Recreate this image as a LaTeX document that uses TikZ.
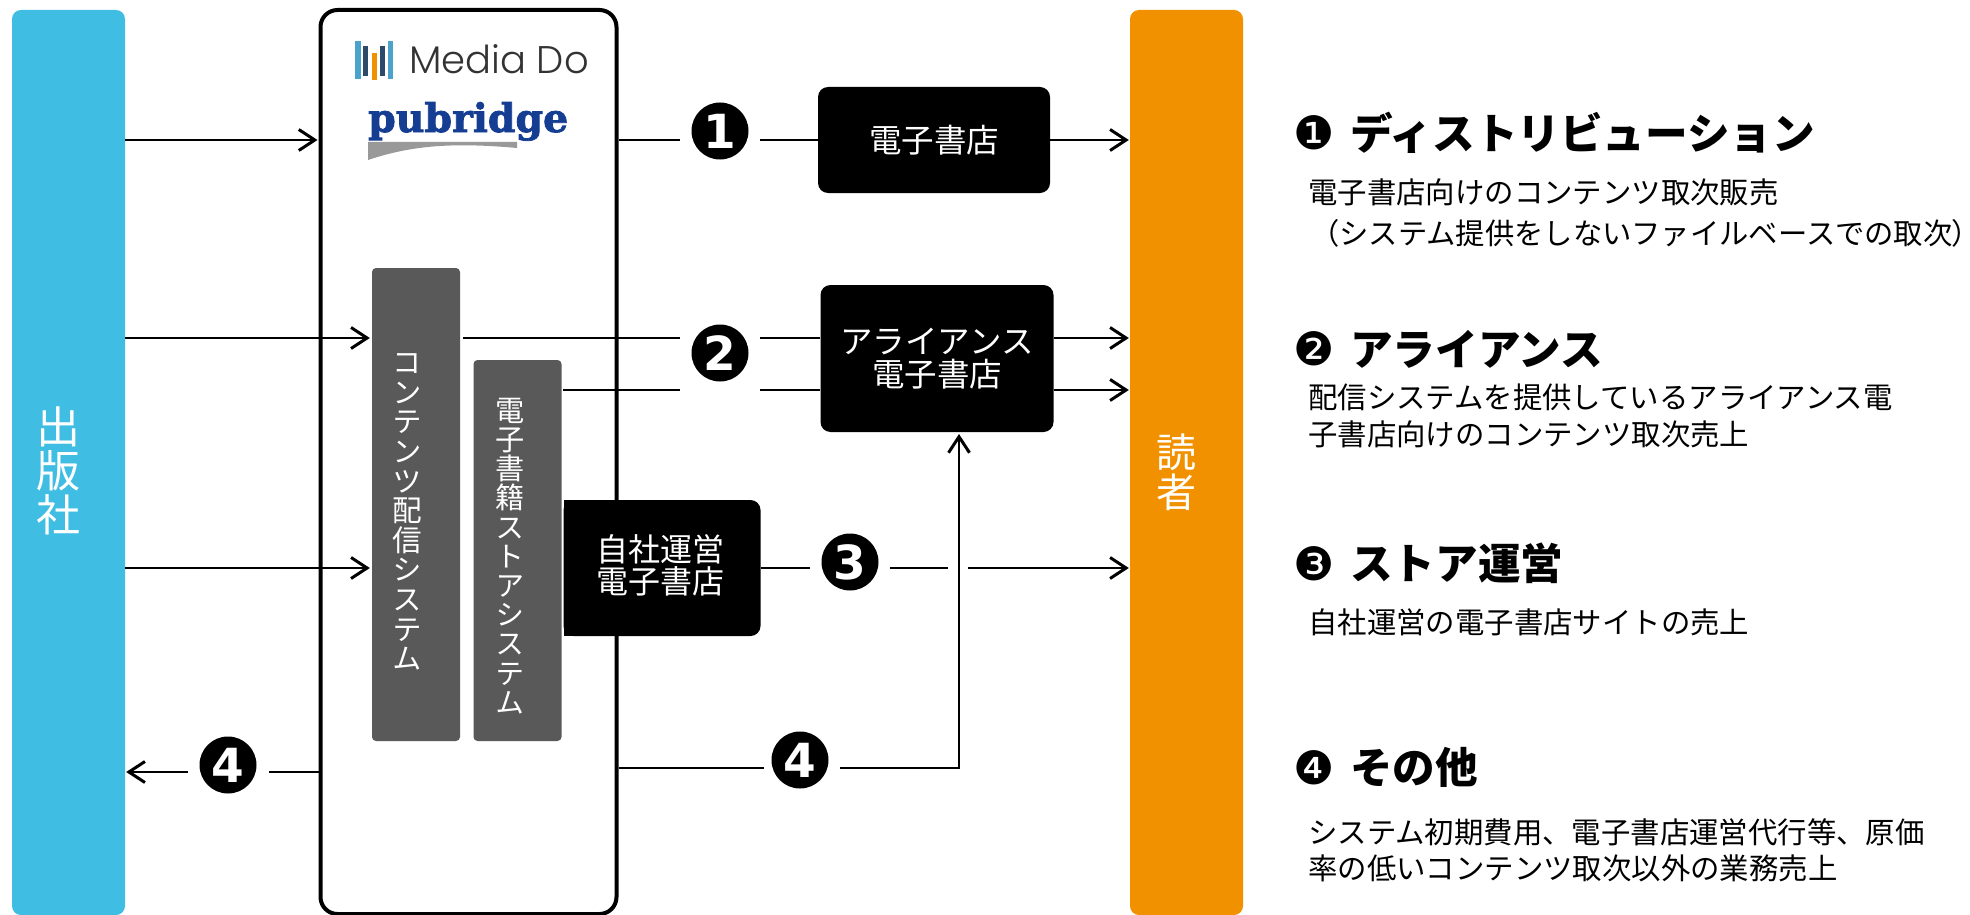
\documentclass[tikz,border=0pt]{standalone}
\usepackage{fontspec}
\setmainfont{Noto Sans CJK JP}
\newfontfamily\cjkvert[RawFeature={+vert}]{Noto Sans CJK JP}
\newfontfamily\cjkpalt[RawFeature={+palt}]{Noto Sans CJK JP}
\newfontfamily\cjkbold[UprightFont=* Black]{Noto Sans CJK JP}
\newfontfamily\numfont{DejaVu Sans}
\newfontfamily\numbold{DejaVu Sans Bold}
\newfontfamily\logofont[UprightFont=* Light]{Poppins}
\newfontfamily\pubfont[FakeBold=2]{DejaVu Serif Bold}
\newcommand{\fsz}[1]{\fontsize{#1}{#1}\selectfont}
\definecolor{cblue}{HTML}{3FBDE2}
\definecolor{corange}{HTML}{F29100}
\definecolor{cgrey}{HTML}{595959}
\definecolor{cnavy}{HTML}{153E93}
\definecolor{clight}{HTML}{4BA3CC}
\definecolor{cdark}{HTML}{2E4A6B}
\tikzset{
  x=1pt,y=-1pt,
  bar/.style={draw=none,rounded corners=9pt,inner sep=0pt,minimum width=113pt,minimum height=905pt,text=white},
  greybox/.style={fill=cgrey,rounded corners=4pt,inner sep=0pt,minimum width=88pt,text=white},
  blackbox/.style={fill=black,rounded corners=10pt,inner sep=0pt,text=white,align=center,font=\fsz{32.5}},
  num/.style={circle,fill=black,text=white,inner sep=0pt,minimum size=57pt,font=\numbold\fsz{47}},
  link/.style={line width=2.5pt,draw=black},
  arr/.style={link,-{Straight Barb[length=16pt,width=21pt,line width=3pt]}},
  vtext/.style={inner sep=0pt,align=center,text=white},
  heading/.style={anchor=west,inner sep=0pt,font=\cjkbold\fsz{42.6}},
  headnum/.style={anchor=center,inner sep=0pt,font=\numfont\fsz{46}},
  body/.style={anchor=west,inner sep=0pt,align=left,font=\fsz{29.4}},
}
\usetikzlibrary{arrows.meta}
\begin{document}
\begin{tikzpicture}
\useasboundingbox (0,0) rectangle (1970,915);
\clip (0,0) rectangle (1970,915);
% main blocks
\node[bar,fill=cblue] (pub) at (68.5,462.5) {};
\node[bar,fill=corange] (reader) at (1186.5,462.5) {};
\node[draw=black,line width=4pt,rounded corners=17pt,inner sep=0pt,minimum width=296pt,minimum height=904pt] (md) at (468.5,462) {};
\node[vtext,font=\cjkvert\fsz{44}] (pubt) at (58,471) {出\\[0pt]版\\社};
\node[vtext,font=\cjkvert\fsz{40}] (readt) at (1176,472) {読\\者};
% logo
\fill[clight] (355,41) rectangle (361,79);
\fill[cdark] (363,46) rectangle (368,76);
\fill[corange] (372,53) rectangle (377,80);
\fill[cdark] (380,46) rectangle (385,76);
\fill[clight] (388,41) rectangle (393,79);
\node[anchor=base west,inner sep=0pt,font=\logofont\fsz{38.5},text=black!80] (mdl) at (409,74) {Media Do};
\node[anchor=base west,inner sep=0pt,font=\pubfont\fsz{45},text=cnavy] (pbl) at (368,132) {\resizebox{200pt}{!}{pubridge}};
\fill[black!40] (368,142) -- (517,142) -- (517,148) .. controls (450,142) and (410,146) .. (368,160) -- cycle;
% inner boxes
\node[greybox,minimum height=473pt] (cds) at (416,504.5) {};
\node[greybox,minimum height=381pt] (ess) at (517.5,550.5) {};
\node[vtext,font=\cjkvert\fsz{29.6}] (cdst) at (407,512) {コ\\ン\\テ\\ン\\ツ\\配\\信\\シ\\ス\\テ\\ム};
\node[vtext,font=\cjkvert\fsz{29.2}] (esst) at (510,556) {電\\子\\書\\籍\\ス\\ト\\ア\\シ\\ス\\テ\\ム};
\node[blackbox,minimum width=232pt,minimum height=106pt] (shop) at (934,140) {電子書店};
\node[blackbox,minimum width=233pt,minimum height=147pt] (ally) at (937,358.5) {アライアンス\\電子書店};
\node[blackbox,minimum width=197pt,minimum height=136pt] (own) at (662,568) {};
\fill[black] (564,500) rectangle (600,636);
\node[text=white,inner sep=0pt,align=center,font=\fsz{32}] (ownt) at (660,565) {自社運営\\電子書店};
% numbers
\node[num] (n1) at (720,131) {1};
\node[num] (n2) at (720,353) {2};
\node[num] (n3) at (850,562) {3};
\node[num] (n4a) at (228,765) {4};
\node[num] (n4b) at (800,760) {4};
% coordinates
\coordinate (r1) at (760,140);
\coordinate (l1) at (680,140);
\coordinate (l2a) at (680,338);
\coordinate (r2a) at (760,338);
\coordinate (l2b) at (680,390);
\coordinate (r2b) at (760,390);
\coordinate (s2a) at (463,338);
\coordinate (s2b) at (563,390);
\coordinate (l3) at (810,568);
\coordinate (r3) at (890,568);
\coordinate (g3a) at (948,568);
\coordinate (g3b) at (968,568);
\coordinate (l4) at (764,768);
\coordinate (r4) at (840,768);
\coordinate (c4) at (959,768);
\coordinate (u4) at (959,434);
\coordinate (l4a) at (269,772);
\coordinate (r4a) at (188,772);
% connectors
\draw[arr,shorten >=1pt] (pub.east |- 0,140) -- (md.west |- 0,140);
\draw[link] (md.east |- 0,140) -- (l1);
\draw[link] (r1) -- (shop.west |- 0,140);
\draw[arr,shorten >=1pt] (shop.east |- 0,140) -- (reader.west |- 0,140);
\draw[arr,shorten >=2pt] (pub.east |- 0,338) -- (cds.west |- 0,338);
\draw[link] (s2a) -- (l2a);
\draw[link] (r2a) -- (ally.west |- 0,338);
\draw[link] (s2b) -- (l2b);
\draw[link] (r2b) -- (ally.west |- 0,390);
\draw[arr,shorten >=1pt] (ally.east |- 0,338) -- (reader.west |- 0,338);
\draw[arr,shorten >=1pt] (ally.east |- 0,390) -- (reader.west |- 0,390);
\draw[arr,shorten >=2pt] (pub.east |- 0,568) -- (cds.west |- 0,568);
\draw[link] (own.east |- 0,568) -- (l3);
\draw[link] (r3) -- (g3a);
\draw[arr,shorten >=1pt] (g3b) -- (reader.west |- 0,568);
\draw[link] (md.east |- 0,768) -- (l4);
\draw[arr] (r4) -- (c4) -- (u4);
\draw[link] (md.west |- 0,772) -- (l4a);
\draw[arr,shorten >=1pt] (r4a) -- (pub.east |- 0,772);
% right text
\node[headnum] (h1n) at (1314,133) {❶};
\node[heading] (h1) at (1350,133) {ディストリビューション};
\node[body] (b1a) at (1308,192) {電子書店向けのコンテンツ取次販売};
\node[body,font=\fsz{29.3}] (b1b) at (1310,233) {（システム提供をしないファイルベースでの取次{\cjkpalt ）}};
\node[headnum] (h2n) at (1314,349) {❷};
\node[heading] (h2) at (1350,349) {アライアンス};
\node[body] (b2a) at (1308,397) {配信システムを提供しているアライアンス電};
\node[body] (b2b) at (1308,434) {子書店向けのコンテンツ取次売上};
\node[headnum] (h3n) at (1314,564) {❸};
\node[heading] (h3) at (1350,563) {ストア運営};
\node[body] (b3) at (1308,622) {自社運営の電子書店サイトの売上};
\node[headnum] (h4n) at (1314,768) {❹};
\node[heading] (h4) at (1350,767) {その他};
\node[body] (b4a) at (1308,832) {システム初期費用、電子書店運営代行等、原価};
\node[body] (b4b) at (1308,868) {率の低いコンテンツ取次以外の業務売上};
\end{tikzpicture}
\end{document}
